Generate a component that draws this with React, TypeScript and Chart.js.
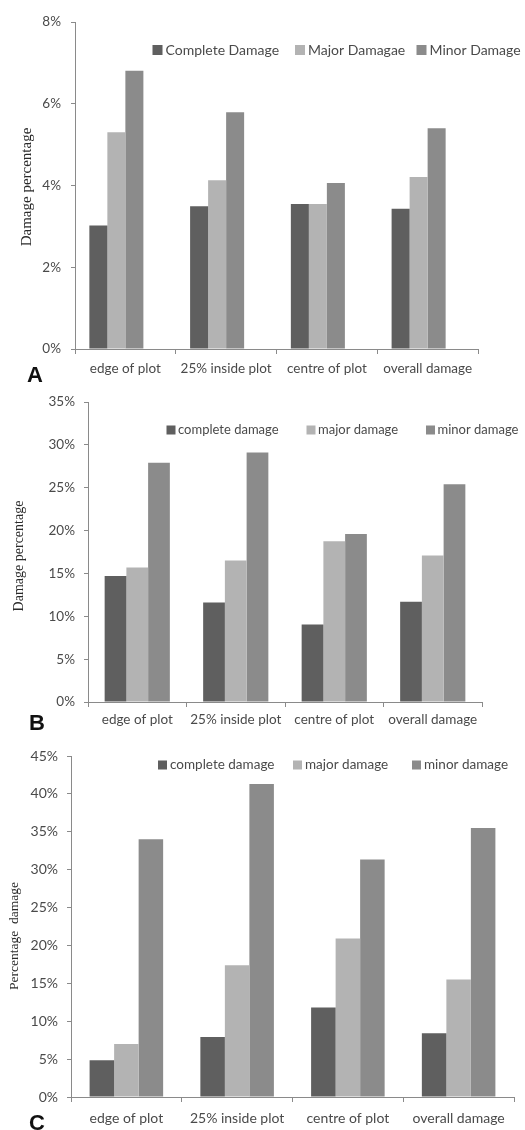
import React, { useEffect, useRef } from 'react';
import { Chart, registerables } from 'chart.js';

Chart.register(...registerables);

// ---------- data ----------
const categories = ['edge of plot', '25% inside plot', 'centre of plot', 'overall damage'];

const labelsA = ['Complete Damage', 'Major Damagae', 'Minor Damage'];
const completeA = [3.02, 3.49, 3.55, 3.43];
const majorA = [5.3, 4.13, 3.55, 4.21];
const minorA = [6.81, 5.79, 4.06, 5.4];
const emptyA = [null, null, null, null];
const maxA = 8;
const stepA = 2;

const labelsB = ['complete damage', 'major damage', 'minor damage'];
const completeB = [14.7, 11.6, 9.05, 11.7];
const majorB = [15.7, 16.5, 18.75, 17.1];
const minorB = [27.9, 29.1, 19.6, 25.4];
const maxB = 35;
const stepB = 5;

const labelsC = ['complete damage', 'major damage', 'minor damage'];
const completeC = [4.85, 7.93, 11.8, 8.41];
const majorC = [7.0, 17.4, 20.9, 15.5];
const minorC = [34.0, 41.3, 31.35, 35.5];
const maxC = 45;
const stepC = 5;

const titleA = 'Damage percentage';
const titleB = 'Damage percentage';
const titleC = 'Percentage  damage';

// ---------- styles ----------
const COLORS = ['#5f5f5f', '#b3b3b3', '#8b8b8b'];
const AXIS = '#8a8a8a';
const TEXT = '#4a4a4a';
const SANS = 'Lato, "Liberation Sans", sans-serif';
const SERIF = '"Liberation Serif", "DejaVu Serif", serif';

const overlayPlugin = {
  id: 'overlay',
  afterDraw(chart: any, _args: any, o: any) {
    const ctx = chart.ctx;
    ctx.save();
    const ds = chart.data.datasets.filter((d: any) => d.label);
    ctx.textBaseline = 'middle';
    ctx.textAlign = 'left';
    ctx.font = o.legendFont;
    o.legendX.forEach((x: number, i: number) => {
      const d = ds[i];
      if (!d) return;
      ctx.fillStyle = d.backgroundColor;
      ctx.fillRect(x, o.legendY - o.marker / 2, o.marker, o.marker);
      ctx.fillStyle = TEXT;
      ctx.fillText(d.label, x + o.textGap, o.legendY);
    });
    // y axis title
    ctx.save();
    ctx.translate(o.titleX, o.titleY);
    ctx.rotate(-Math.PI / 2);
    ctx.textAlign = 'center';
    ctx.font = o.titleFont;
    ctx.fillStyle = '#2a2a2a';
    ctx.fillText(o.title, 0, 0);
    ctx.restore();
    // panel letter
    ctx.textAlign = 'center';
    ctx.font = o.letterFont;
    ctx.fillStyle = '#111';
    ctx.fillText(o.letter, o.letterX, o.letterY);
    ctx.restore();
  },
};

type PanelProps = {
  top: number;
  height: number;
  labels: string[];
  series: (number | null)[][];
  spacer?: boolean;
  max: number;
  step: number;
  left: number;
  right: number;
  plotTop: number;
  plotBottom: number;
  catPct: number;
  tickFont: number;
  xPad: number;
  yPad: number;
  overlay: any;
};

function Panel(p: PanelProps) {
  const ref = useRef<HTMLCanvasElement>(null);
  useEffect(() => {
    if (!ref.current) return;
    const datasets: any[] = p.series.map((s, i) => ({
      label: p.labels[i],
      data: s,
      backgroundColor: COLORS[i],
      borderWidth: 0,
    }));
    if (p.spacer) {
      datasets.push({ label: '', data: emptyA, backgroundColor: 'rgba(0,0,0,0)' });
    }
    const W = 525;
    const chart = new Chart(ref.current, {
      type: 'bar',
      data: { labels: categories, datasets },
      plugins: [overlayPlugin as any],
      options: {
        responsive: false,
        animation: false,
        devicePixelRatio: 1,
        layout: { padding: { left: 0, top: p.plotTop, right: W - p.right, bottom: 0 } },
        datasets: { bar: { categoryPercentage: p.catPct, barPercentage: 1 } },
        plugins: {
          legend: { display: false },
          tooltip: { enabled: false },
          overlay: p.overlay,
        } as any,
        scales: {
          x: {
            grid: {
              drawOnChartArea: false,
              drawTicks: true,
              tickLength: 5,
              color: AXIS,
              offset: true,
            },
            border: { color: AXIS, width: 1 },
            ticks: {
              color: TEXT,
              font: { family: SANS, size: p.tickFont },
              padding: p.xPad,
              maxRotation: 0,
              autoSkip: false,
            },
            afterFit: (s: any) => {
              s.height = p.height - p.plotBottom;
              s.paddingLeft = 0;
              s.paddingRight = 0;
            },
          },
          y: {
            min: 0,
            max: p.max,
            grid: {
              drawOnChartArea: false,
              drawTicks: true,
              tickLength: 4,
              color: AXIS,
            },
            border: { color: AXIS, width: 1 },
            ticks: {
              stepSize: p.step,
              color: TEXT,
              font: { family: SANS, size: p.tickFont },
              padding: p.yPad,
              callback: (v: any) => `${v}%`,
            },
            afterFit: (s: any) => {
              s.width = p.left;
              s.paddingTop = 0;
              s.paddingBottom = 0;
            },
          },
        },
      } as any,
    });
    return () => chart.destroy();
  }, []);
  return (
    <div style={{ position: 'absolute', left: 0, top: p.top, width: 525, height: p.height }}>
      <canvas ref={ref} width={525} height={p.height} style={{ width: 525, height: p.height, display: 'block' }} />
    </div>
  );
}

export default function App() {
  return (
    <div style={{ position: 'absolute', left: 0, top: 0, width: 525, height: 1130, background: '#fff', overflow: 'hidden' }}>
      <Panel
        top={0}
        height={385}
        labels={labelsA}
        series={[completeA, majorA, minorA]}
        spacer
        max={maxA}
        step={stepA}
        left={75}
        right={478}
        plotTop={22}
        plotBottom={349}
        catPct={0.715}
        tickFont={13.5}
        xPad={7}
        yPad={10}
        overlay={{
          legendX: [152.5, 295, 416.5],
          legendY: 50,
          marker: 10,
          textGap: 13,
          legendFont: `14px ${SANS}`,
          title: titleA,
          titleX: 27,
          titleY: 187,
          titleFont: `15px ${SERIF}`,
          letter: 'A',
          letterX: 35,
          letterY: 376,
          letterFont: `bold 22px "Liberation Sans", sans-serif`,
        }}
      />
      <Panel
        top={385}
        height={355}
        labels={labelsB}
        series={[completeB, majorB, minorB]}
        max={maxB}
        step={stepB}
        left={88}
        right={482}
        plotTop={17}
        plotBottom={317}
        catPct={0.662}
        tickFont={13.5}
        xPad={5}
        yPad={9}
        overlay={{
          legendX: [166.5, 306.5, 426],
          legendY: 45,
          marker: 9,
          textGap: 11.5,
          legendFont: `13px ${SANS}`,
          title: titleB,
          titleX: 19,
          titleY: 171,
          titleFont: `14px ${SERIF}`,
          letter: 'B',
          letterX: 37,
          letterY: 339,
          letterFont: `bold 22px "Liberation Sans", sans-serif`,
        }}
      />
      <Panel
        top={740}
        height={390}
        labels={labelsC}
        series={[completeC, majorC, minorC]}
        max={maxC}
        step={stepC}
        left={71}
        right={514}
        plotTop={16}
        plotBottom={357}
        catPct={0.664}
        tickFont={14}
        xPad={8}
        yPad={9}
        overlay={{
          legendX: [158, 293, 412],
          legendY: 25,
          marker: 9,
          textGap: 12,
          legendFont: `13.5px ${SANS}`,
          title: titleC,
          titleX: 14,
          titleY: 196,
          titleFont: `13.5px ${SERIF}`,
          letter: 'C',
          letterX: 37,
          letterY: 384,
          letterFont: `bold 22px "Liberation Sans", sans-serif`,
        }}
      />
    </div>
  );
}
